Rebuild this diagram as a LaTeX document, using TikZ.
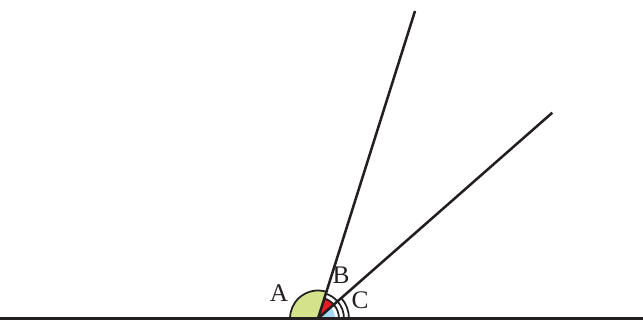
\documentclass[tikz,border=0pt]{standalone}
\usepackage{fontspec}
\setmainfont{Liberation Serif}
\usetikzlibrary{calc}
\definecolor{colAngA}{RGB}{212,226,140}
\definecolor{colAngB}{RGB}{232,28,36}
\definecolor{colAngC}{RGB}{166,218,242}
\definecolor{colLine}{RGB}{35,31,32}
\tikzset{
  ray/.style={draw=colLine, line width=1.9pt},
  anglearc/.style={draw=colLine, line width=1.3pt},
  lbl/.style={font=\fontsize{19}{22}\selectfont, text=colLine, inner sep=0pt}
}
\begin{document}
\begin{tikzpicture}[x=0.75pt, y=0.75pt]
  \useasboundingbox (0,0) rectangle (643,320);

  \coordinate (V) at (318,1.5);
  \coordinate (left) at (0,1.5);
  \coordinate (right) at (643,1.5);
  \coordinate (tipOne) at (415,309);
  \coordinate (tipTwo) at (552.3,207.3);

  % angle A
  \fill[colAngA] (V) -- ++(72.5:28) arc[start angle=72.5, end angle=180, radius=28] -- cycle;
  \draw[anglearc] ($(V)+(72.5:28)$) arc[start angle=72.5, end angle=180, radius=28];

  % angle B
  \fill[colAngB] (V) -- ++(41.3:21) arc[start angle=41.3, end angle=72.5, radius=21] -- cycle;
  \foreach \r in {21,26}
    \draw[anglearc] ($(V)+(41.3:\r)$) arc[start angle=41.3, end angle=72.5, radius=\r];

  % angle C
  \fill[colAngC] (V) -- ++(0:17) arc[start angle=0, end angle=41.3, radius=17] -- cycle;
  \foreach \r in {21,26,31}
    \draw[anglearc] ($(V)+(0:\r)$) arc[start angle=0, end angle=41.3, radius=\r];

  % rays
  \draw[ray] (left) -- (right);
  \draw[ray] (V) -- (tipOne);
  \draw[ray] (V) -- (tipTwo);

  % labels
  \node[lbl] (labA) at (279,27) {A};
  \node[lbl] (labB) at (341,45) {B};
  \node[lbl] (labC) at (360,19.5) {C};
\end{tikzpicture}
\end{document}
